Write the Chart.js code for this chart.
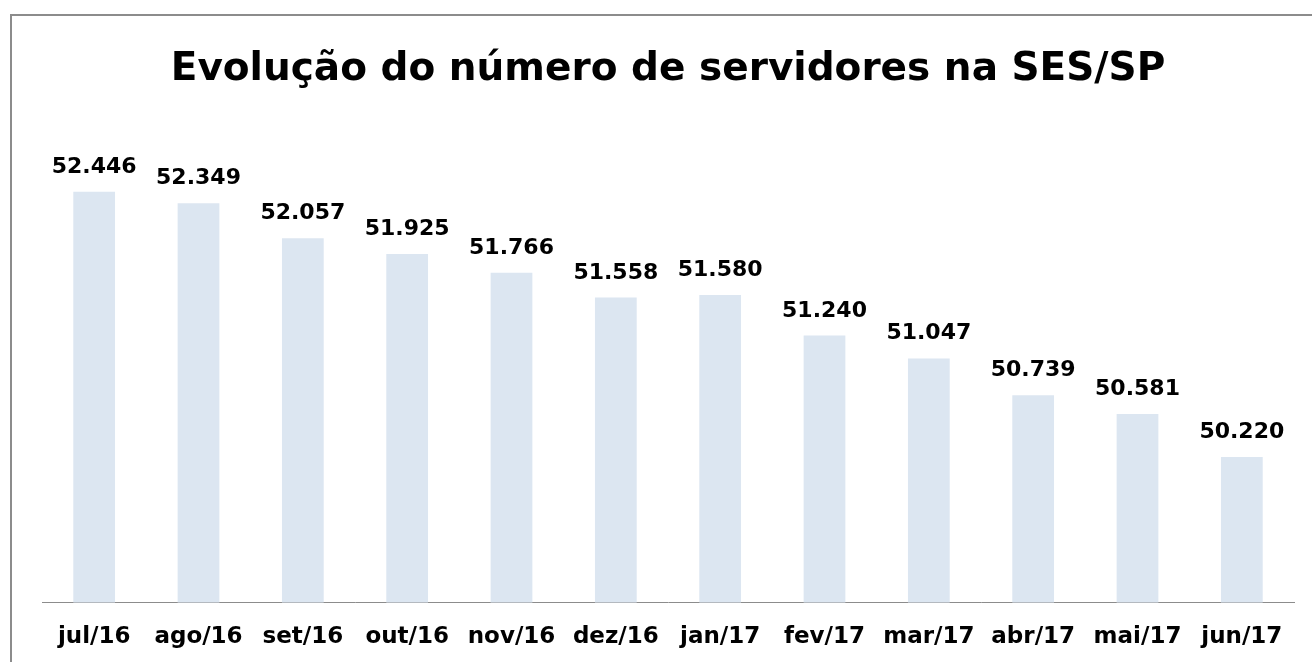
<!DOCTYPE html>
<html lang="pt-BR">
<head>
    <meta charset="UTF-8">
    <title>Evolução do número de servidores na SES/SP</title>
    <script src="https://cdn.jsdelivr.net/npm/chart.js"></script>
    <style>
        html, body { margin: 0; padding: 0; background: #fff; overflow: hidden; }
        #box {
            position: absolute;
            left: 10px;
            top: 14px;
            width: 1314px;
            height: 660px;
            border: 2px solid #8c8c8c;
            background: #fff;
        }
    </style>
</head>
<body>
    <div id="box">
        <canvas id="myChart" width="1314" height="660"></canvas>
    </div>

    <script>
        // meses (eixo X) e número de servidores
        const meses = ['jul/16', 'ago/16', 'set/16', 'out/16', 'nov/16', 'dez/16',
                       'jan/17', 'fev/17', 'mar/17', 'abr/17', 'mai/17', 'jun/17'];
        const servidores = [52446, 52349, 52057, 51925, 51766, 51558,
                            51580, 51240, 51047, 50739, 50581, 50220];

        // escala do eixo Y (oculto)
        const yMin = 49000;
        const yMax = 53000;

        const FONT = "'DejaVu Sans', sans-serif";

        // formata 52446 -> 52.446
        function fmt(v) {
            return String(v).replace(/\B(?=(\d{3})+(?!\d))/g, '.');
        }

        // rótulos de dados acima das barras
        const rotulos = {
            id: 'rotulos',
            afterDatasetsDraw(chart) {
                const ctx = chart.ctx;
                const meta = chart.getDatasetMeta(0);
                ctx.save();
                ctx.font = 'bold 22px ' + FONT;
                ctx.fillStyle = '#000';
                ctx.textAlign = 'center';
                ctx.textBaseline = 'alphabetic';
                meta.data.forEach((bar, i) => {
                    ctx.fillText(fmt(servidores[i]), bar.x, bar.y - 19);
                });
                ctx.restore();
            }
        };

        const ctx = document.getElementById('myChart').getContext('2d');
        const myChart = new Chart(ctx, {
            type: 'bar',
            data: {
                labels: meses,
                datasets: [{
                    label: 'Servidores',
                    data: servidores,
                    backgroundColor: '#dce6f1',
                    borderWidth: 0,
                    categoryPercentage: 1.0,
                    barPercentage: 0.4
                }]
            },
            options: {
                responsive: false,
                animation: false,
                layout: {
                    padding: { left: 30, right: 32, top: 0, bottom: 12 }
                },
                scales: {
                    x: {
                        grid: { display: false },
                        border: { display: true, color: '#8c8c8c', width: 1 },
                        ticks: {
                            color: '#000',
                            padding: 13,
                            font: { family: FONT, size: 23, weight: 'bold' }
                        }
                    },
                    y: {
                        display: false,
                        min: yMin,
                        max: yMax
                    }
                },
                plugins: {
                    legend: { display: false },
                    tooltip: { enabled: false },
                    title: {
                        display: true,
                        text: 'Evolução do número de servidores na SES/SP',
                        color: '#000',
                        font: { family: FONT, size: 39, weight: 'bold' },
                        padding: { top: 30, bottom: 33 }
                    }
                }
            },
            plugins: [rotulos]
        });
    </script>
</body>
</html>
